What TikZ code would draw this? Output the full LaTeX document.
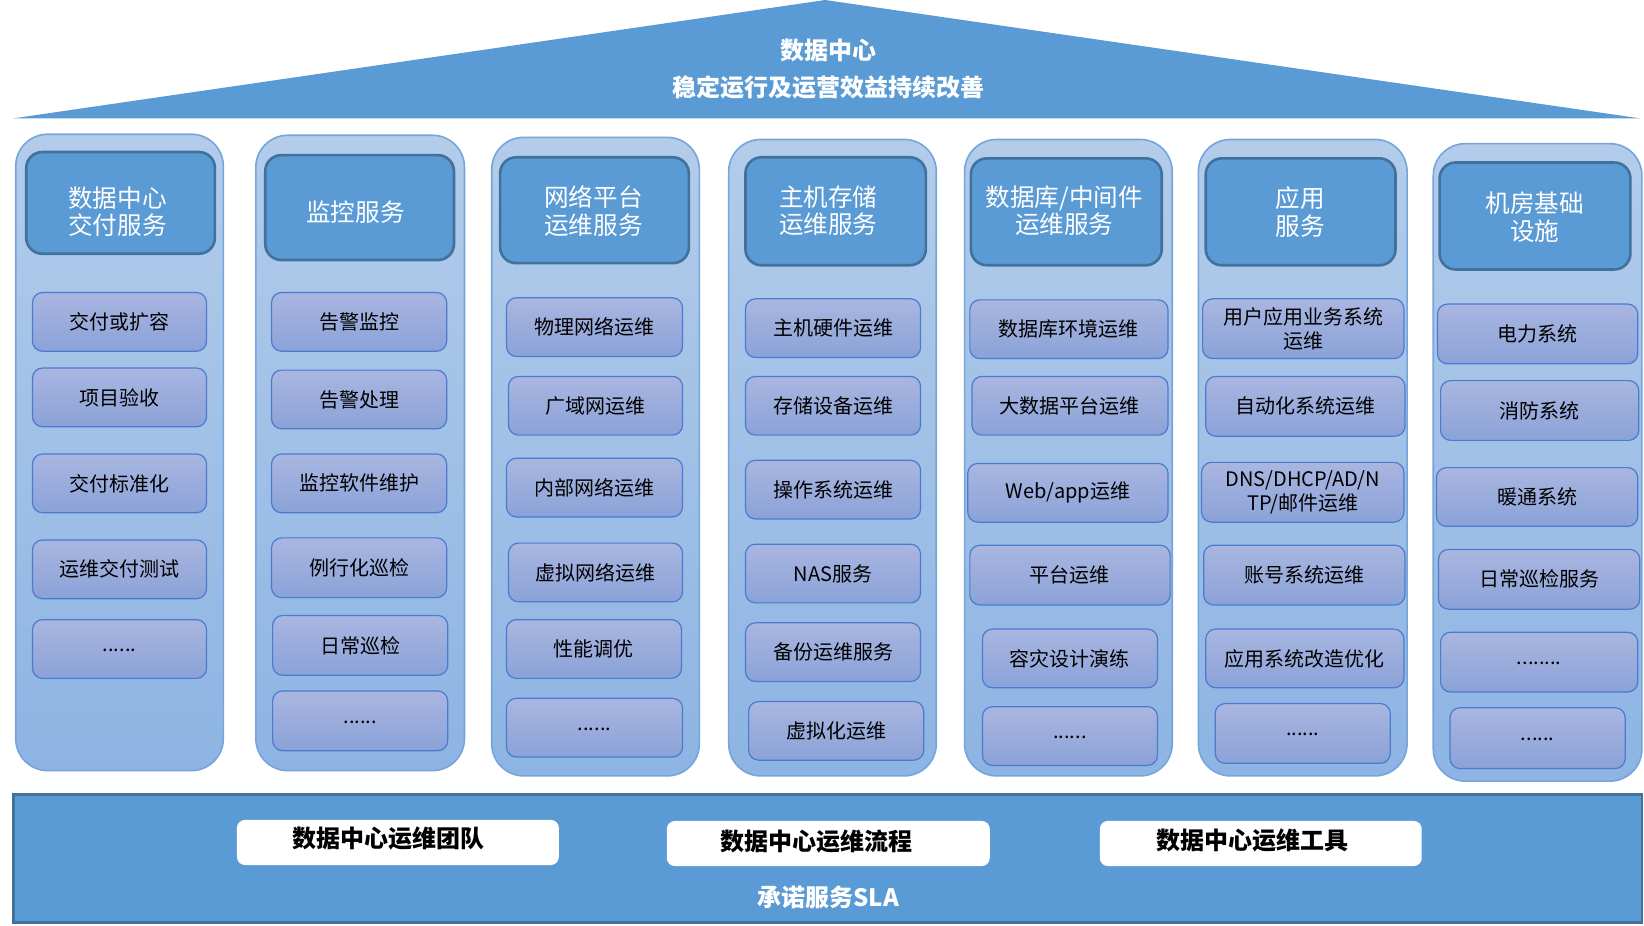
\documentclass[tikz,border=0pt]{standalone}
\usepackage{fontspec}
\setmainfont{Noto Sans CJK SC}
\definecolor{roof}{HTML}{5B9BD5}
\definecolor{colTop}{HTML}{B3CCEA}
\definecolor{colBot}{HTML}{8DB4E3}
\definecolor{colLine}{HTML}{74A5DB}
\definecolor{hdrFill}{HTML}{5A9AD5}
\definecolor{hdrLine}{HTML}{41719C}
\definecolor{itTop}{HTML}{A9B6E0}
\definecolor{itBot}{HTML}{8BA2D8}
\definecolor{itLine}{HTML}{4A7BD0}
\newcommand\bx[7]{\node[#1,minimum width={(#4-#2)*0.52423pt},minimum height={(#5-#3)*0.52423pt}] (#6) at ({(#2+#4)/2},{(#3+#5)/2}) {#7};}
\newcommand\lowdots[1]{\raisebox{-2.6pt}{#1}}
\tikzset{
  base/.style={inner sep=0pt,outer sep=0pt,align=center,rectangle},
  colbox/.style={base,rounded corners=16pt,draw=colLine,line width=0.8pt,top color=colTop,bottom color=colBot},
  hdrbox/.style={base,rounded corners=8pt,draw=hdrLine,line width=1.3pt,fill=hdrFill},
  hdrtext/.style={base,text=white,font=\fontsize{12.3}{13.8}\selectfont},
  itembox/.style={base,rounded corners=5pt,draw=itLine,line width=0.6pt,top color=itTop,bottom color=itBot,text=black,font=\fontsize{10}{12}\selectfont},
  band/.style={base,draw=hdrLine,line width=1.3pt,fill=roof},
  whitebox/.style={base,rounded corners=4pt,fill=white},
  whitetext/.style={base,text=black,font=\bfseries\fontsize{12}{14}\selectfont},
}
\begin{document}
\begin{tikzpicture}[x=0.52423pt,y=-0.52423pt]
\useasboundingbox (0,0) rectangle (1568,883);
% roof
\fill[roof] (12,113) -- (787,0) -- (1565,113) -- cycle;
\node[base,text=white,font=\bfseries\fontsize{12}{18.3}\selectfont] (rooftext) at (790,66) {数据中心\\稳定运行及运营效益持续改善};
% columns
\bx{colbox}{15}{128}{213}{735}{c1}{}
\bx{colbox}{244}{129}{443}{735}{c2}{}
\bx{colbox}{469}{131}{667}{740}{c3}{}
\bx{colbox}{695}{133}{893}{740}{c4}{}
\bx{colbox}{920}{133}{1118}{740}{c5}{}
\bx{colbox}{1143}{133}{1342}{740}{c6}{}
\bx{colbox}{1367}{137}{1566}{745}{c7}{}
% headers
\bx{hdrbox}{25}{145}{205}{242}{h1}{}
\bx{hdrbox}{253}{148}{433}{248}{h2}{}
\bx{hdrbox}{477}{150}{657}{251}{h3}{}
\bx{hdrbox}{711}{150}{883}{253}{h4}{}
\bx{hdrbox}{926}{151}{1108}{253}{h5}{}
\bx{hdrbox}{1150}{151}{1331}{253}{h6}{}
\bx{hdrbox}{1373}{155}{1555}{257}{h7}{}
\node[hdrtext] (h1t) at (112,202) {数据中心\\交付服务};
\node[hdrtext] (h2t) at (339,202) {监控服务};
\node[hdrtext] (h3t) at (566,201) {网络平台\\运维服务};
\node[hdrtext] (h4t) at (790,201) {主机存储\\运维服务};
\node[hdrtext] (h5t) at (1015,201) {数据库/中间件\\运维服务};
\node[hdrtext] (h6t) at (1240,202) {应用\\服务};
\node[hdrtext] (h7t) at (1464,207) {机房基础\\设施};
% column 1
\bx{itembox}{31}{279}{197}{335}{a1}{交付或扩容}
\bx{itembox}{31}{351}{197}{407}{a2}{项目验收}
\bx{itembox}{31}{433}{197}{489}{a3}{交付标准化}
\bx{itembox}{31}{515}{197}{571}{a4}{运维交付测试}
\bx{itembox}{31}{591}{197}{647}{a5}{\lowdots{......}}
% column 2
\bx{itembox}{259}{279}{426}{335}{b1}{告警监控}
\bx{itembox}{259}{353}{426}{409}{b2}{告警处理}
\bx{itembox}{259}{433}{426}{489}{b3}{监控软件维护}
\bx{itembox}{259}{513}{426}{570}{b4}{例行化巡检}
\bx{itembox}{260}{587}{427}{644}{b5}{日常巡检}
\bx{itembox}{260}{659}{427}{716}{b6}{\lowdots{......}}
% column 3
\bx{itembox}{483}{284}{651}{340}{n1}{物理网络运维}
\bx{itembox}{485}{359}{651}{415}{n2}{广域网运维}
\bx{itembox}{483}{437}{651}{493}{n3}{内部网络运维}
\bx{itembox}{485}{518}{651}{574}{n4}{虚拟网络运维}
\bx{itembox}{483}{591}{650}{647}{n5}{性能调优}
\bx{itembox}{483}{666}{651}{722}{n6}{\lowdots{......}}
% column 4
\bx{itembox}{711}{285}{878}{341}{s1}{主机硬件运维}
\bx{itembox}{711}{359}{878}{415}{s2}{存储设备运维}
\bx{itembox}{711}{439}{878}{495}{s3}{操作系统运维}
\bx{itembox}{711}{519}{878}{575}{s4}{NAS服务}
\bx{itembox}{711}{594}{878}{650}{s5}{备份运维服务}
\bx{itembox}{714}{669}{881}{725}{s6}{虚拟化运维}
% column 5
\bx{itembox}{925}{286}{1114}{342}{d1}{数据库环境运维}
\bx{itembox}{927}{359}{1114}{415}{d2}{大数据平台运维}
\bx{itembox}{923}{442}{1114}{498}{d3}{Web/app运维}
\bx{itembox}{925}{520}{1116}{577}{d4}{平台运维}
\bx{itembox}{937}{600}{1104}{656}{d5}{容灾设计演练}
\bx{itembox}{937}{674}{1104}{730}{d6}{\lowdots{......}}
% column 6
\bx{itembox}{1147}{285}{1339}{342}{p1}{用户应用业务系统\\运维}
\bx{itembox}{1150}{359}{1340}{416}{p2}{自动化系统运维}
\bx{itembox}{1146}{441}{1339}{498}{p3}{DNS/DHCP/AD/N\\TP/邮件运维}
\bx{itembox}{1148}{520}{1340}{577}{p4}{账号系统运维}
\bx{itembox}{1150}{600}{1339}{656}{p5}{应用系统改造优化}
\bx{itembox}{1159}{671}{1326}{728}{p6}{\lowdots{......}}
% column 7
\bx{itembox}{1371}{290}{1562}{347}{r1}{电力系统}
\bx{itembox}{1374}{363}{1563}{420}{r2}{消防系统}
\bx{itembox}{1370}{446}{1562}{502}{r3}{暖通系统}
\bx{itembox}{1372}{524}{1564}{581}{r4}{日常巡检服务}
\bx{itembox}{1374}{603}{1562}{660}{r5}{\lowdots{........}}
\bx{itembox}{1383}{675}{1550}{733}{r6}{\lowdots{......}}
% bottom band
\bx{band}{13}{758}{1566}{880}{bottom}{}
\bx{whitebox}{226}{782}{533}{825}{w1}{}
\bx{whitebox}{636}{783}{944}{826}{w2}{}
\bx{whitebox}{1049}{783}{1356}{826}{w3}{}
\node[whitetext] (w1t) at (371,800) {数据中心运维团队};
\node[whitetext] (w2t) at (779,803) {数据中心运维流程};
\node[whitetext] (w3t) at (1195,802) {数据中心运维工具};
\node[base,text=white,font=\bfseries\fontsize{12}{14}\selectfont] (sla) at (790,856) {承诺服务SLA};
\end{tikzpicture}
\end{document}
